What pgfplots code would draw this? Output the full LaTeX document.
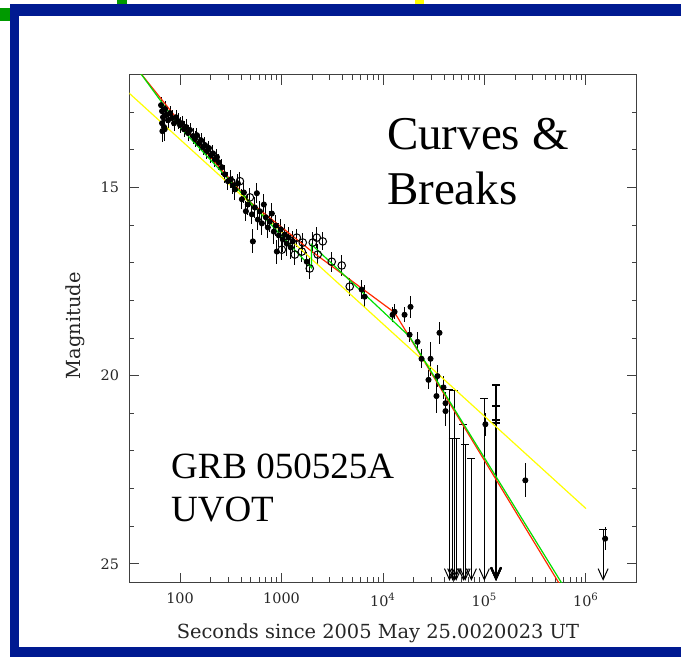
\documentclass[border=0pt]{standalone}
\usepackage{fontspec}
\setmainfont{DejaVu Serif}
\newfontfamily\timesfont{Liberation Serif}
\usepackage{pgfplots}
\pgfplotsset{compat=1.18}
\usepackage{pgfplotstable}
\usetikzlibrary{arrows.meta}
\definecolor{slideblue}{HTML}{001A91}
\definecolor{slidegreen}{HTML}{009A00}
\definecolor{fitred}{HTML}{FF2A00}
\definecolor{fitgreen}{HTML}{00E000}
\definecolor{fityellow}{HTML}{FFFF00}

% filled points: time (s), magnitude, error
\pgfplotstableread{
t mag err
65.0 12.81 0.21
66.5 12.97 0.21
68.0 13.13 0.27
66.5 13.29 0.32
69.6 13.39 0.27
67.0 13.50 0.30
70.5 13.45 0.30
71.2 12.91 0.21
72.8 13.07 0.21
76.2 13.21 0.21
79.7 13.02 0.19
83.4 13.15 0.21
87.3 13.29 0.21
91.3 13.13 0.19
95.6 13.23 0.21
100 13.34 0.21
104.6 13.29 0.19
109.5 13.45 0.21
114.6 13.39 0.21
119.9 13.55 0.21
125.4 13.47 0.19
134.2 13.63 0.21
140.4 13.71 0.21
146.9 13.61 0.19
153.8 13.82 0.21
160.9 13.74 0.19
168.4 13.93 0.21
176.1 13.87 0.21
184.3 14.03 0.21
192.9 13.95 0.19
201.8 14.14 0.21
211.2 14.09 0.21
220.9 14.25 0.21
231.1 14.19 0.21
241.8 14.33 0.21
258.8 14.46 0.21
277.0 14.65 0.24
296.5 14.83 0.24
317.3 14.78 0.24
332.0 14.94 0.24
347.4 15.05 0.27
371.8 14.89 0.24
407.0 15.31 0.27
425.9 15.13 0.27
445.6 15.63 0.27
466.3 15.45 0.27
510.5 15.71 0.27
522.2 16.43 0.32
546.4 15.53 0.27
571.6 15.15 0.27
584.8 15.85 0.27
611.9 15.63 0.27
640.3 15.95 0.32
669.9 15.45 0.27
700.9 15.79 0.27
733.4 16.06 0.27
767.4 15.90 0.27
802.9 15.69 0.27
840.1 16.17 0.32
879.0 16.01 0.27
899.0 16.70 0.32
940.7 16.27 0.32
984.2 16.11 0.27
1030 16.38 0.32
1078 16.25 0.27
1128 16.49 0.32
1180 16.33 0.27
1234 16.59 0.32
1292 16.43 0.27
1774 16.97 0.27
6162 17.71 0.25
6594 17.90 0.30
12420 18.38 0.20
13000 18.30 0.20
16300 18.38 0.20
18670 18.17 0.30
18270 18.91 0.20
21890 19.10 0.25
23970 19.55 0.25
28080 20.11 0.25
29400 19.55 0.45
33650 20.54 0.45
34430 20.01 0.30
36030 18.86 0.30
39450 20.31 0.30
41300 20.73 0.30
41300 20.94 0.40
102100 21.29 0.30
252600 22.78 0.45
1545000 24.33 0.30
}\filledpts

% open circles: second filter
\pgfplotstableread{
t mag err
389 14.83 0.24
488 15.26 0.24
1007 16.65 0.27
1352 16.78 0.27
1414 16.33 0.24
1585 16.70 0.27
1619 16.46 0.24
1897 17.15 0.27
2032 16.46 0.27
2225 16.33 0.27
2275 16.78 0.27
2549 16.43 0.24
3126 16.97 0.27
3920 17.07 0.27
4699 17.63 0.24
}\openpts

\begin{document}
\begin{tikzpicture}[x=0.5pt,y=0.5pt]
\path[use as bounding box] (0,0) rectangle (681,657);
\fill[white] (0,0) rectangle (681,657);
% slide frame
\fill[slidegreen] (0,636.3) rectangle (9.7,649);
\fill[slidegreen] (117.3,653) rectangle (126.7,657);
\fill[fityellow] (415,653) rectangle (424.3,657);
\fill[slideblue] (9.7,641) rectangle (681,653);
\fill[slideblue] (9.7,0) rectangle (19,653);
\fill[slideblue] (9.7,0) rectangle (681,10);

\begin{axis}[
  at={(64.65pt,37.15pt)}, anchor=south west,
  scale only axis, width=253.7pt, height=254pt,
  xmode=log, xmin=31.62, xmax=3162278,
  ymin=12, ymax=25.5, y dir=reverse,
  axis line style={black!75, line width=0.6pt},
  tick style={black!75, line width=0.5pt},
  tick align=inside,
  major tick length=5pt, minor tick length=2.6pt,
  xtick={100,1000,10000,100000,1000000},
  xticklabels={100,1000,10\textsuperscript{4},10\textsuperscript{5},10\textsuperscript{6}},
  ytick={15,20,25}, yticklabels={15,20,25},
  minor ytick={13,14,16,17,18,19,21,22,23,24},
  ticklabel style={font=\fontsize{7.2}{8.5}\selectfont, text=black!85},
  yticklabel style={xshift=-1.6pt},
  xticklabel style={yshift=-1.6pt},
  xlabel={Seconds since 2005 May 25.0020023 UT},
  ylabel={Magnitude},
  label style={font=\fontsize{9.7}{11}\selectfont, text=black!85},
  xlabel style={at={(axis description cs:0.49,-0.1)}, anchor=center},
  ylabel style={at={(axis description cs:-0.107,0.506)}, anchor=center},
  error bars/error bar style={black, line width=0.5pt},
]
% data
\addplot[only marks, mark=*, mark size=1.3pt, mark options={fill=black, draw=black},
  error bars/.cd, y dir=both, y explicit, error mark=none]
  table[x=t, y=mag, y error=err] {\filledpts};
\addplot[only marks, mark=o, mark size=1.9pt, mark options={draw=black, line width=0.5pt, fill=white},
  error bars/.cd, y dir=both, y explicit, error mark=none]
  table[x=t, y=mag, y error=err] {\openpts};

% upper limits
\pgfplotsset{lim/.style={black, line width=0.5pt, {Bar[width=4pt]}-{Straight Barb[length=5.5pt, width=5pt]}}}
\addplot[lim] coordinates {(45200,20.35) (45200,25.45)};
\addplot[lim] coordinates {(48600,21.66) (48600,25.45)};
\addplot[lim] coordinates {(50600,20.38) (50600,25.45)};
\addplot[lim] coordinates {(52600,21.66) (52600,25.45)};
\addplot[lim] coordinates {(62000,21.28) (62000,25.45)};
\addplot[lim] coordinates {(64500,21.82) (64500,25.45)};
\addplot[lim] coordinates {(74300,22.19) (74300,25.45)};
\addplot[lim] coordinates {(99700,20.60) (99700,25.45)};
\addplot[lim, line width=1pt] coordinates {(130000,20.22) (130000,25.45)};
\addplot[lim, line width=1pt] coordinates {(130000,20.79) (130000,25.45)};
\addplot[lim, line width=1pt] coordinates {(130000,21.14) (130000,25.45)};
\addplot[lim, line width=1pt] coordinates {(130000,21.24) (130000,25.45)};
\addplot[lim] coordinates {(1476000,24.06) (1476000,25.45)};

% fits
\addplot[fitred, line width=0.6pt] coordinates {(40,11.93) (100,13.27) (488,15.38) (1972,16.69) (13000,18.32) (544500,25.52)};
\addplot[fityellow, line width=0.6pt] coordinates {(31.5,12.49) (1000000,23.53)};
\addplot[fitgreen, line width=0.6pt] coordinates {(40,11.93) (100,13.40) (1972,17.13) (1972,16.51) (18300,18.96) (579400,25.52)};
\end{axis}

\node[anchor=base west, inner sep=0, font=\timesfont\fontsize{23.5}{28}\selectfont] at (386.7,507.7) {Curves \&};
\node[anchor=base west, inner sep=0, font=\timesfont\fontsize{23.5}{28}\selectfont] at (386.7,452) {Breaks};
\node[anchor=base west, inner sep=0, font=\timesfont\fontsize{18.5}{22}\selectfont] at (170.7,178.7) {GRB 050525A};
\node[anchor=base west, inner sep=0, font=\timesfont\fontsize{18.5}{22}\selectfont] at (170.7,135.3) {UVOT};
\end{tikzpicture}
\end{document}
